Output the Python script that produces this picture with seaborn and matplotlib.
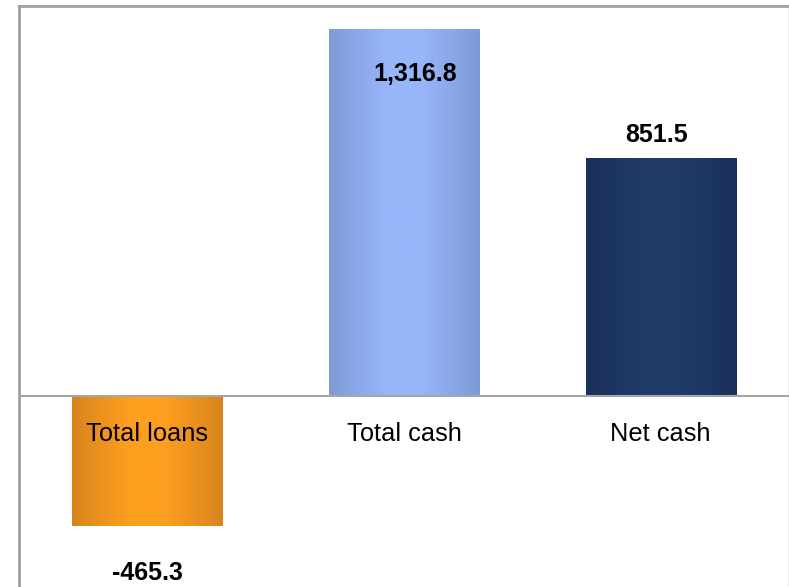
import numpy as np
import pandas as pd
import seaborn as sns
import matplotlib.pyplot as plt
from matplotlib.colors import to_rgb

# ----------------------------------------
# Data
categories = ["Total loans", "Total cash", "Net cash"]
values = [-465.3, 1316.8, 851.5]
value_labels = ["-465.3", "1,316.8", "851.5"]
edge_colors = ["#D8841E", "#7E9AD6", "#19305A"]
center_colors = ["#FF9F20", "#97B6FA", "#213B69"]
# ----------------------------------------

sns.set_style("white")
plt.rcParams['font.family'] = ['Liberation Sans', 'DejaVu Sans']

df = pd.DataFrame({"category": categories, "value": values})

fig = plt.figure(figsize=(7.89, 5.87), dpi=100)
ax = fig.add_axes([19 / 789, 0, 770 / 789, 581 / 587])

sns.barplot(data=df, x="category", y="value", order=categories,
            width=0.585, color="white", saturation=1, ax=ax)


def gradient_fill(ax, patch, edge, center):
    """
    Paint a horizontal edge-center-edge gradient inside a bar patch.
    """
    bb = patch.get_bbox()
    x0, x1 = sorted([bb.x0, bb.x1])
    y0, y1 = sorted([bb.y0, bb.y1])
    t = 1 - np.abs(np.linspace(-1, 1, 256))
    t = np.clip(t * 1.3, 0, 1)
    e, c = np.array(to_rgb(edge)), np.array(to_rgb(center))
    img = e[None, :] + (c - e)[None, :] * t[:, None]
    img = img[None, :, :]
    im = ax.imshow(img, extent=[x0, x1, y0, y1], aspect='auto',
                   interpolation='bilinear', zorder=2)
    im.set_clip_path(patch)
    patch.set_edgecolor("none")


for patch, edge, center in zip(ax.patches, edge_colors, center_colors):
    gradient_fill(ax, patch, edge, center)

ax.set_xlim(-0.5, 2.5)
ax.set_ylim(-685, 1398)

# zero line
ax.axhline(0, color="#A6A6A6", linewidth=1.5, zorder=3)

# category labels under the zero line
for i, cat in enumerate(categories):
    ax.annotate(cat, xy=(i, 0), xytext=(0, -27.5), textcoords="offset points",
                ha="center", va="center", fontsize=18.3, color="black", zorder=4)

# value labels
offsets = [(0, -34), (8, -32.5), (-3, 17)]
for i, (v, lab) in enumerate(zip(values, value_labels)):
    dx, dy = offsets[i]
    ax.annotate(lab, xy=(i, v), xytext=(dx, dy), textcoords="offset points",
                ha="center", va="center", fontsize=18, fontweight="bold",
                color="black", zorder=4)

ax.set_xticks([])
ax.set_yticks([])
ax.set_xlabel("")
ax.set_ylabel("")

for side in ["left", "top"]:
    ax.spines[side].set_color("#A0A0A0")
    ax.spines[side].set_linewidth(2)
ax.spines["right"].set_color("#EEEEEE")
ax.spines["right"].set_linewidth(1.5)
ax.spines["bottom"].set_visible(False)

fig.savefig("out.png", dpi=100)
